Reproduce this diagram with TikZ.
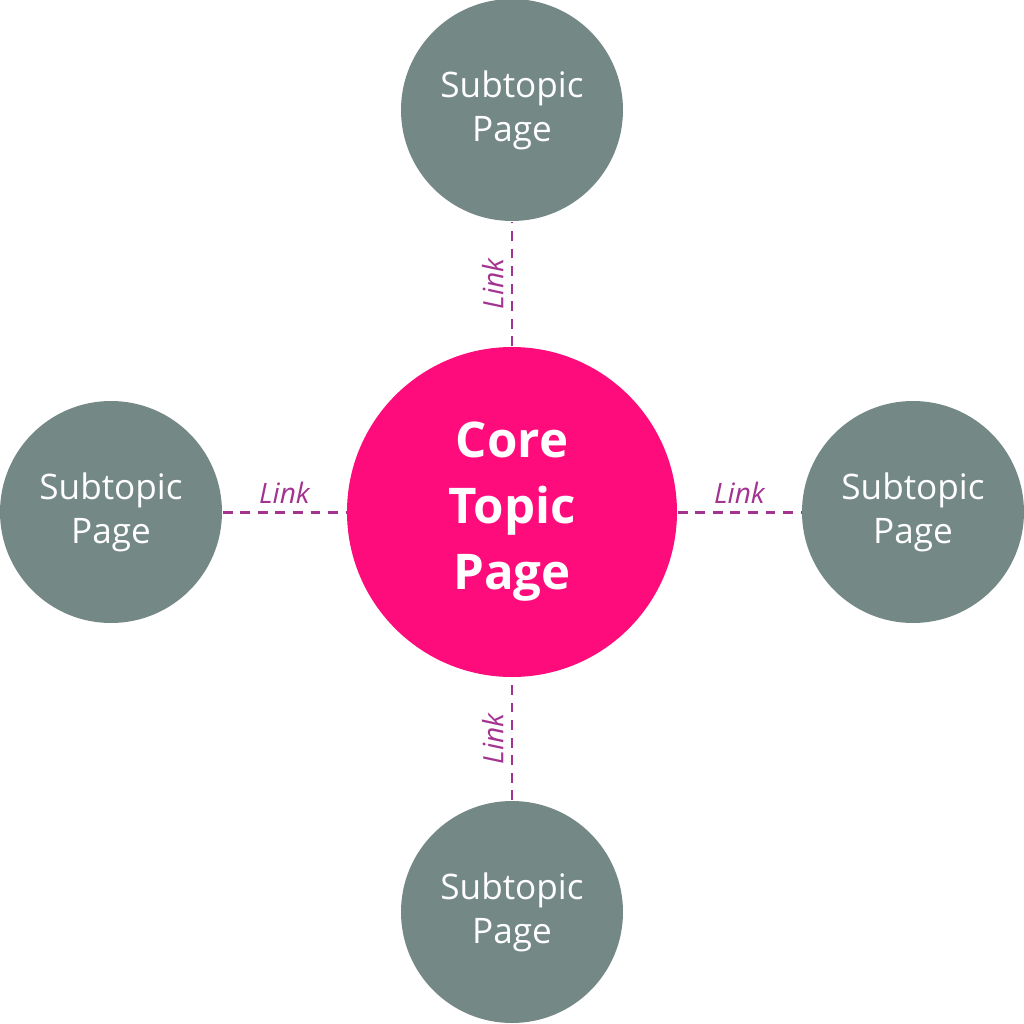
\documentclass[tikz,border=0pt]{standalone}
\usepackage{fontspec}
\setmainfont{Open Sans}
\definecolor{corepink}{RGB}{255,12,124}
\definecolor{subgrey}{RGB}{116,136,134}
\definecolor{linkpurple}{RGB}{163,51,145}
\begin{document}
\begin{tikzpicture}[
    core/.style={circle, fill=corepink, minimum size=3.30cm, inner sep=0pt, text=white, align=center,
        font=\fontsize{14}{18.8}\selectfont\bfseries},
    sub/.style={circle, fill=subgrey, minimum size=2.22cm, inner sep=0pt, text=white, align=center,
        font=\fontsize{10}{12.5}\selectfont},
    link/.style={draw=linkpurple, line width=0.85pt, dash pattern=on 2.8pt off 2.2pt},
    linklabel/.style={midway, above, sloped, inner sep=2pt, text=linkpurple,
        font=\fontsize{8}{9}\selectfont\itshape}]
        % --- Fixed frame ---
        \useasboundingbox (-5.12, -5.12) rectangle (5.12, 5.12);

        % --- Core page in the middle ---
        \node[core] (core) at (0, 0) {Core\\Topic\\Page};

        % --- Subtopic pages round it ---
        \node[sub] (top) at (0, 4.02) {Subtopic\\Page};
        \node[sub] (left) at (-4.01, 0) {Subtopic\\Page};
        \node[sub] (right) at (4.01, 0) {Subtopic\\Page};
        \node[sub] (bottom) at (0, -4.00) {Subtopic\\Page};

        % --- Links ---
        \draw[link] (core) -- (top) node[linklabel] {Link};
        \draw[link] (left) -- (core) node[linklabel] {Link};
        \draw[link] (core) -- (right) node[linklabel] {Link};
        \draw[link] (bottom) -- (core) node[linklabel] {Link};
    \end{tikzpicture}
\end{document}
